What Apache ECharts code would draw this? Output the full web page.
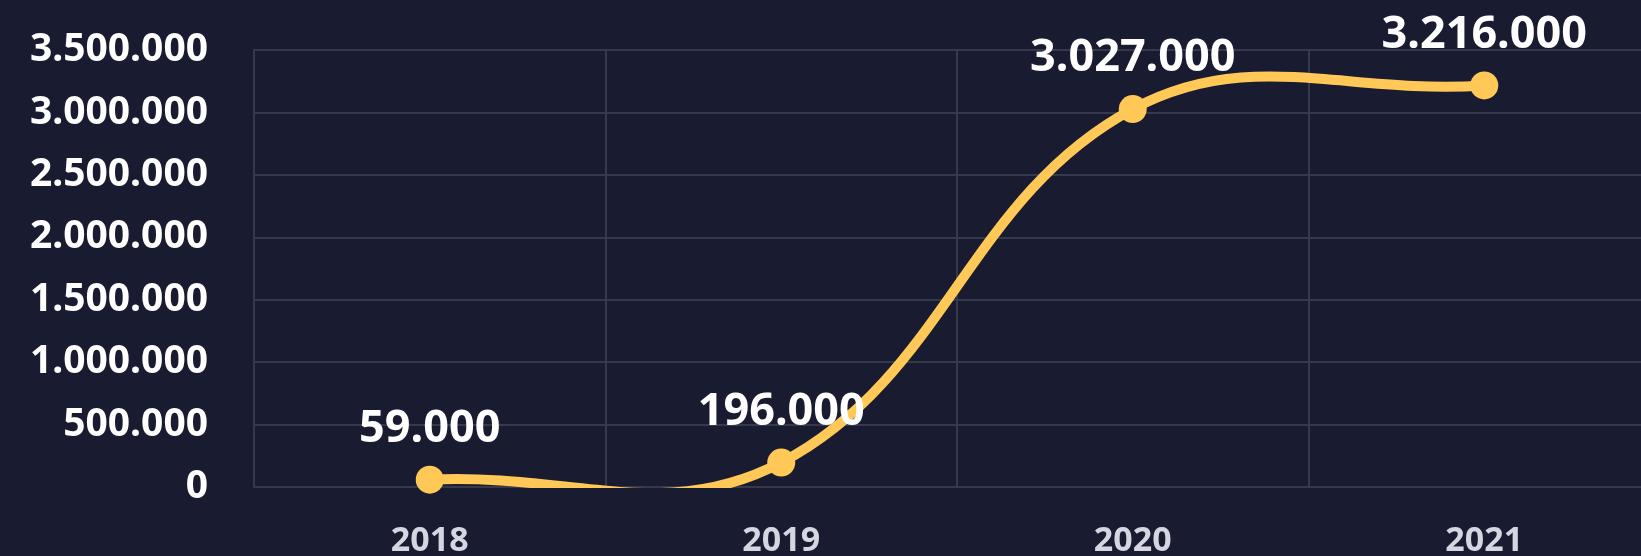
<!DOCTYPE html>
<html><head><meta charset="utf-8">
<style>html,body{margin:0;padding:0;background:#191c31;}#c{width:1641px;height:556px;}</style>
<script src="https://cdn.jsdelivr.net/npm/echarts@6/dist/echarts.min.js"></script>
</head><body><div id="c"></div>
<script>
const categories = ['2018', '2019', '2020', '2021'];
const values = [59000, 196000, 3027000, 3216000];
const yTicks = [0, 500000, 1000000, 1500000, 2000000, 2500000, 3000000, 3500000];

function fmt(v){ return String(Math.round(v)).replace(/\B(?=(\d{3})+(?!\d))/g, '.'); }

const LINE_COLOR = '#ffc857';
const TENSION = 0.4;

function renderSpline(params, api) {
  if (params.dataIndex !== 0) return null;
  const pts = values.map((v, i) => api.coord([i, v]));
  const n = pts.length;
  const cps = pts.map((p, i) => {
    const prev = pts[Math.max(0, i - 1)], next = pts[Math.min(n - 1, i + 1)];
    const d01 = Math.hypot(p[0] - prev[0], p[1] - prev[1]);
    const d12 = Math.hypot(next[0] - p[0], next[1] - p[1]);
    let s01 = d01 / (d01 + d12), s12 = d12 / (d01 + d12);
    if (!isFinite(s01)) s01 = 0; if (!isFinite(s12)) s12 = 0;
    const fa = TENSION * s01, fb = TENSION * s12;
    return {
      prev: [p[0] - fa * (next[0] - prev[0]), p[1] - fa * (next[1] - prev[1])],
      next: [p[0] + fb * (next[0] - prev[0]), p[1] + fb * (next[1] - prev[1])]
    };
  });
  const children = [];
  for (let i = 0; i < n - 1; i++) {
    children.push({
      type: 'bezierCurve',
      shape: {
        x1: pts[i][0], y1: pts[i][1], x2: pts[i + 1][0], y2: pts[i + 1][1],
        cpx1: cps[i].next[0], cpy1: cps[i].next[1],
        cpx2: cps[i + 1].prev[0], cpy2: cps[i + 1].prev[1]
      },
      style: { stroke: LINE_COLOR, lineWidth: 10, fill: null, lineCap: 'round' }
    });
  }
  const cs = params.coordSys;
  return {
    type: 'group', children,
    clipPath: { type: 'rect', shape: { x: cs.x - 50, y: cs.y - 100, width: cs.width + 100, height: cs.height + 101 } }
  };
}

const chart = echarts.init(document.getElementById('c'));
chart.setOption({
  backgroundColor: '#191c31',
  animation: false,
  grid: { left: 254, top: 50, width: 1406, height: 437, outerBoundsMode: 'none', containLabel: false },
  xAxis: {
    type: 'category', data: categories, boundaryGap: true,
    axisLine: { show: true, lineStyle: { color: '#36384c', width: 2 } },
    axisTick: { show: false },
    splitLine: { show: true, lineStyle: { color: '#36384c', width: 2 } },
    axisLabel: { color: '#d6d6e2', fontSize: 34, fontWeight: 'bold', fontFamily: 'Noto Sans', margin: 37 }
  },
  yAxis: {
    type: 'value', min: yTicks[0], max: yTicks[yTicks.length-1], interval: 500000,
    axisLine: { show: true, lineStyle: { color: '#36384c', width: 2 } },
    axisTick: { show: false },
    splitLine: { show: true, lineStyle: { color: '#36384c', width: 2 } },
    axisLabel: { color: '#ffffff', fontSize: 39, fontWeight: 'bold', fontFamily: 'Noto Sans', margin: 46, formatter: fmt }
  },
  series: [{
    type: 'custom', z: 2, clip: false,
    data: values.map((v, i) => [i, v]),
    encode: { x: 0, y: 1 },
    renderItem: renderSpline,
    silent: true
  }, {
    type: 'line', data: values, z: 3,
    symbol: 'circle', symbolSize: 28,
    lineStyle: { width: 0, opacity: 0 },
    itemStyle: { color: LINE_COLOR },
    label: { show: true, position: 'top', distance: 14, color: '#ffffff', fontSize: 45, fontWeight: 'bold', fontFamily: 'Noto Sans', formatter: p => fmt(p.value) }
  }]
});
</script></body></html>
